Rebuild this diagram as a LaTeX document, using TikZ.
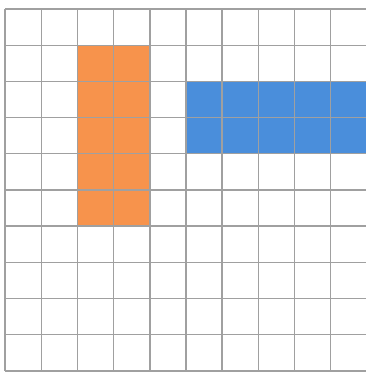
\documentclass[tikz,border=0pt]{standalone}
\usepackage{xcolor}
\usepackage{tikz}

\definecolor{gridgray}{RGB}{160,160,160}
\definecolor{orangefill}{RGB}{247,147,76}
\definecolor{bluefill}{RGB}{74,142,219}

\begin{document}
\begin{tikzpicture}[x=1cm, y=1cm,
  gridline/.style={draw=gridgray, line width=1.1pt},
  orangebar/.style={fill=orangefill},
  bluebar/.style={fill=bluefill}]
\useasboundingbox (-0.14,-0.03) rectangle (9.97,10.25);
\clip (-0.14,-0.03) rectangle (9.97,10.25);
\fill[white] (-0.14,-0.03) rectangle (9.97,10.25);

% coloured bars
\fill[orangebar] (2,4) rectangle (4,9);
\fill[bluebar]   (5,6) rectangle (10,8);

% grid
\draw[gridline] (0,0) grid (10,10);
\end{tikzpicture}
\end{document}
